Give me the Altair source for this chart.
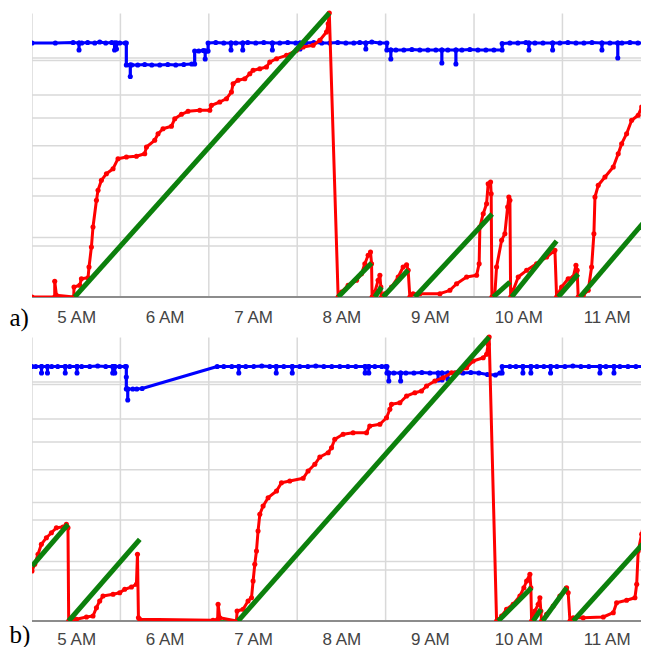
import altair as alt
import pandas as pd

# ---------------- shared axis / grid values ----------------
HOURS = [5, 6, 7, 8, 9, 10, 11]
VGRID = [4.5, 5.5, 6.5, 7.5, 8.5, 9.5, 10.5]
VGRID_TOP = 283.5
HGRID = [51, 59.5, 101, 118.5, 151.3, 179, 202, 236.5, 239]
BASE = [0]
X_DOMAIN = [4.5, 11.4]
Y_TOP = 290

# ---------------- panel a ----------------
blue_a_t = [4.500, 4.764, 4.965, 5.032, 5.032, 5.032, 5.062, 5.130, 5.210, 5.266, 5.334, 5.402,
            5.434, 5.434, 5.434, 5.456, 5.456, 5.456, 5.492, 5.555, 5.567, 5.567,
            5.612, 5.612, 5.612, 5.628, 5.696, 5.775, 5.855, 5.945, 6.036, 6.126, 6.217, 6.307,
            6.340, 6.340, 6.386, 6.438, 6.459, 6.459, 6.459, 6.482, 6.492, 6.492,
            6.579, 6.669, 6.751, 6.751, 6.751, 6.805, 6.884, 6.884, 6.884, 6.941, 7.031, 7.122,
            7.219, 7.219, 7.219, 7.303, 7.393, 7.484, 7.532, 7.532, 7.532, 7.597, 7.688, 7.778,
            7.869, 7.959, 8.050, 8.140, 8.208, 8.276, 8.276, 8.276, 8.344, 8.435, 8.514, 8.514,
            8.559, 8.559, 8.559, 8.616, 8.706, 8.797, 8.887, 8.978, 9.068, 9.136, 9.136, 9.136,
            9.204, 9.295, 9.295, 9.295, 9.363, 9.453, 9.544, 9.634, 9.725, 9.818, 9.818,
            9.906, 9.996, 10.087, 10.121, 10.121, 10.121, 10.189, 10.280, 10.389, 10.389, 10.389,
            10.471, 10.562, 10.653, 10.743, 10.834, 10.947, 10.947, 10.947, 11.037,
            11.126, 11.126, 11.126, 11.173, 11.264, 11.354, 11.444, 11.490]
blue_a_v = [254, 254, 254.5, 254, 247, 254, 254, 254.5, 254, 255, 254, 254.5,
            254, 247, 254, 254, 248, 254, 254, 254, 254, 232,
            232, 220.5, 232, 232, 232, 232.5, 232, 232, 232.5, 232, 232.5, 233,
            233, 246, 246, 246.5, 246, 238, 246, 246, 246, 254,
            254.5, 254, 254, 247, 254, 254, 254, 247, 254, 254.5, 254, 254.5,
            254, 247, 254, 254, 254.5, 254, 254, 248, 254, 254, 254.5, 254,
            254, 254.5, 254, 254, 254.5, 254, 248, 254, 255, 254, 254, 247,
            247, 238, 247, 247, 247, 247.5, 247, 247, 247, 247, 234, 247,
            247, 247, 233, 247, 247, 247.5, 247, 247, 247, 247, 253.5,
            254, 254, 254.5, 254, 247, 254, 254, 254, 254, 247, 254,
            254, 254.5, 254, 254, 254.5, 254, 247, 254, 254,
            254, 239, 254, 254, 254.5, 254, 254, 254]

red_a_t = [4.500, 4.757, 4.757, 4.776, 4.972, 4.975, 5.040, 5.059, 5.134, 5.145, 5.172, 5.190, 5.229, 5.247,
           5.285, 5.342, 5.417, 5.473, 5.568, 5.681, 5.775, 5.795, 5.888, 5.926, 5.982, 6.077, 6.115, 6.191,
           6.265, 6.398, 6.511, 6.530, 6.624, 6.700, 6.756, 6.775, 6.831, 6.907, 6.964, 7.001, 7.077, 7.152,
           7.190, 7.266, 7.379, 7.492, 7.567, 7.680, 7.756, 7.831, 7.850, 7.863,
           7.963, 8.001, 8.076, 8.171, 8.227, 8.265, 8.302, 8.329, 8.341, 8.347, 8.378, 8.415, 8.435, 8.446,
           8.454, 8.491, 8.567, 8.642, 8.698, 8.737, 8.755, 8.774, 8.811, 8.887, 9.114, 9.227, 9.303, 9.416,
           9.529, 9.558, 9.566, 9.604, 9.642, 9.660, 9.687, 9.694, 9.702, 9.736, 9.755, 9.812, 9.849, 9.880,
           9.894, 9.906, 9.914, 9.943, 10.000, 10.095, 10.208, 10.321, 10.415, 10.434, 10.491, 10.565, 10.622,
           10.653, 10.667, 10.678, 10.735, 10.792, 10.830, 10.856, 10.868, 10.905, 10.981, 11.075, 11.131,
           11.170, 11.226, 11.283, 11.357, 11.396, 11.453, 11.490]
red_a_v = [0, 0, 15.7, 1.7, 0, 10, 11.7, 18.3, 19.3, 30, 50, 70, 96.7, 106.7,
           116.7, 123.3, 128.3, 138.3, 140, 140.7, 143.3, 150, 156.7, 163.3, 168.3, 170.7, 178.3, 182.7,
           185.7, 186.7, 186.7, 191.7, 195, 198.3, 205, 213.3, 216.7, 218.3, 223.3, 226.7, 228.3, 230,
           235, 238.3, 241.7, 246.7, 250, 251.7, 256.7, 265, 273.3, 284,
           0, 5, 11.7, 16.7, 23.3, 33.3, 41.7, 45, 33.3, 0, 5, 16.7, 21.7, 10,
           0, 3.3, 10, 20, 30, 32.3, 26.7, 0, 3.3, 3.3, 3.3, 6.7, 13.3, 20,
           21.7, 33.3, 70, 83.3, 93.3, 113.3, 115, 103.3, 0, 3.3, 30, 56.7, 63.3, 90,
           100, 96.7, 0, 6.7, 20, 26.7, 33.3, 40, 46.7, 0, 10, 18.3, 20,
           31.7, 26.7, 0, 1.7, 6.7, 30, 63.3, 100, 111.7, 120, 130, 143.3,
           153.3, 163.3, 176.7, 181.7, 190, 196.7, 200]

green_a_t0 = [4.983, 7.963, 8.378, 8.472, 8.831, 9.717, 9.925, 10.452, 10.698]
green_a_v0 = [0, 0, 0, 0, 0, 0, 0, 0, 0]
green_a_t1 = [7.863, 8.341, 8.454, 8.755, 9.705, 9.906, 10.434, 10.678, 11.490]
green_a_v1 = [284, 34, 10, 27, 83, 15, 56, 23, 82]
flat_a_t0 = [4.500]
flat_a_t1 = [4.983]

# ---------------- panel b ----------------
blue_b_t = [4.500, 4.542, 4.608, 4.608, 4.608, 4.675, 4.675, 4.675, 4.723, 4.791,
            4.876, 4.876, 4.876, 4.927, 5.009, 5.009, 5.009, 5.062, 5.153, 5.243, 5.334,
            5.413, 5.413, 5.413, 5.436, 5.436, 5.436, 5.492, 5.555, 5.567, 5.567, 5.567,
            5.583, 5.583, 5.583, 5.640, 5.685, 5.746,
            6.595, 6.669, 6.760, 6.839, 6.839, 6.839, 6.918, 7.009, 7.099, 7.190,
            7.263, 7.263, 7.263, 7.348, 7.444, 7.444, 7.444,
            7.529, 7.620, 7.710, 7.801, 7.891, 7.982, 8.073, 8.163,
            8.268, 8.268, 8.268, 8.310, 8.310, 8.310, 8.378, 8.457, 8.502, 8.515, 8.515,
            8.536, 8.536, 8.536, 8.593, 8.670, 8.670, 8.670, 8.729, 8.820, 8.910, 9.001,
            9.094, 9.094, 9.094, 9.138, 9.138, 9.138, 9.204, 9.204, 9.204,
            9.283, 9.374, 9.464, 9.555, 9.652, 9.742, 9.793, 9.818, 9.818,
            9.906, 9.974, 10.053, 10.053, 10.053, 10.143, 10.143, 10.143, 10.211, 10.290,
            10.366, 10.366, 10.366, 10.437, 10.528, 10.618, 10.709, 10.799,
            10.924, 10.924, 10.924, 10.992, 11.083, 11.083, 11.083,
            11.150, 11.241, 11.331, 11.422, 11.490]
blue_b_v = [254.5, 254.5, 254.5, 248, 254.5, 254.5, 248, 254.5, 254.5, 254.5,
            254.5, 248, 254.5, 254.5, 254.5, 248, 254.5, 254.5, 254.5, 255, 254.5,
            254.5, 248, 254.5, 254.5, 248, 254.5, 254.5, 254.5, 254.5, 244, 232,
            232, 221, 232, 232, 232, 232.5,
            254.5, 254.5, 254.5, 254.5, 248, 254.5, 254.5, 254.5, 255, 254.5,
            254.5, 248, 254.5, 254.5, 254.5, 248, 254.5,
            254.5, 254.5, 255, 254.5, 254.5, 254.5, 254.5, 254.5,
            254.5, 248, 254.5, 254.5, 248, 254.5, 254.5, 254.5, 254.5, 254.5, 248,
            248, 240, 248, 248, 248, 240, 248, 248, 248, 248.5, 248,
            248, 241, 248, 248, 241, 248, 248, 242, 248,
            248, 248, 248.5, 248, 246.5, 246, 248, 248, 254.5,
            254.5, 254.5, 254.5, 248, 254.5, 254.5, 248, 254.5, 254.5, 254.5,
            254.5, 248, 254.5, 254.5, 254.5, 255, 254.5, 254.5,
            254.5, 248, 254.5, 254.5, 254.5, 248, 254.5,
            254.5, 254.5, 254.5, 254.5, 254.5]

red_b_t = [4.500, 4.531, 4.568, 4.606, 4.663, 4.720, 4.776, 4.851, 4.889, 4.907, 4.915, 5.002, 5.116, 5.190,
           5.229, 5.266, 5.303, 5.417, 5.492, 5.549, 5.625, 5.681, 5.693, 5.704, 5.719, 6.548, 6.600, 6.605,
           6.624, 6.813, 6.820, 6.888, 6.944, 6.983, 7.001, 7.020, 7.039, 7.057, 7.077, 7.114, 7.171, 7.266,
           7.322, 7.416, 7.567, 7.623, 7.699, 7.756, 7.850, 7.888, 7.925, 8.019, 8.132, 8.284, 8.321, 8.435,
           8.510, 8.548, 8.567, 8.661, 8.737, 8.831, 8.906, 8.963, 9.057, 9.151, 9.246, 9.340, 9.416, 9.490,
           9.604, 9.642, 9.660, 9.671,
           9.755, 9.812, 9.868, 9.943, 10.019, 10.064, 10.095, 10.132, 10.143, 10.151, 10.189, 10.226, 10.245,
           10.256, 10.264, 10.321, 10.396, 10.471, 10.528, 10.547, 10.565, 10.585, 10.622, 10.735, 10.962,
           11.075, 11.113, 11.226, 11.320, 11.340, 11.357, 11.396, 11.422, 11.453, 11.471, 11.482]
red_b_v = [50, 56.7, 66.7, 76.7, 83.3, 88.3, 93.3, 94, 96.7, 93.3, 0, 1.7, 4, 5,
           13.3, 20, 25, 26.7, 28.3, 31.7, 34, 36.7, 66.7, 3.3, 1.7, 0.7, 1.5, 16.7,
           3.3, 0, 10, 11.7, 20, 23.3, 40, 56.7, 70, 90, 106.7, 115, 123.3, 130,
           138.3, 140, 142.7, 150, 156.7, 164, 168.3, 173.3, 181.7, 186.7, 188.3, 188.3, 195, 196.7,
           203.3, 211.7, 216.7, 218.3, 225, 228.3, 230, 235, 240, 243.3, 248.3, 250, 253.3, 260,
           263.3, 266.7, 276.7, 284,
           0, 5, 11.7, 16.7, 25, 33.3, 40, 46.7, 33.3, 0, 10, 16.7, 23.3,
           10, 0, 6.7, 15, 25, 30, 33.3, 28.3, 0, 3.3, 3.3, 4,
           8.3, 18.3, 20.7, 23.3, 36.7, 70, 86.7, 100, 115, 115, 0]

green_b_t0 = [4.500, 4.915, 6.831, 9.773, 10.169, 10.276, 10.622]
green_b_v0 = [55, 0, 0, 0, 0, 0, 0]
green_b_t1 = [4.907, 5.719, 9.671, 10.151, 10.256, 10.547, 11.490]
green_b_v1 = [96.7, 81.7, 284, 33.3, 11.7, 33.3, 85]
flat_b_t0 = [5.719]
flat_b_t1 = [6.831]

BLUE = "#0000ff"
RED = "#ff0000"
GREEN = "#0c800c"
GRID = "#d9d9d9"


def series_df(t, v):
    df = pd.DataFrame({"t": t, "v": v})
    df["i"] = range(len(df))
    return df


def panel(label, title_y, label_pad, bt, bv, rt, rv, gt0, gv0, gt1, gv1, ft0, ft1):
    xs = alt.Scale(domain=X_DOMAIN, nice=False, zero=False)
    ys = alt.Scale(domain=[0, Y_TOP], nice=False)
    xaxis = alt.Axis(values=HOURS, labelExpr="datum.value + ' AM'", grid=False, ticks=False, tickSize=0,
                     domain=False, labelFont="Liberation Sans", labelFontSize=17, labelColor="#444444",
                     labelPadding=label_pad, labelFlush=False, labelOverlap=False,
                     title=label, titleFont="Liberation Serif", titleFontSize=25, titleFontWeight="normal",
                     titleColor="#000000", titleX=-23, titleY=title_y, titleAlign="left",
                     titleBaseline="alphabetic")
    X = alt.X("t:Q", scale=xs, axis=xaxis)
    Y = alt.Y("v:Q", scale=ys, axis=None)
    O = alt.Order("i:Q")

    vdf = pd.DataFrame({"t": VGRID, "v": [0] * len(VGRID), "v1": [VGRID_TOP] * len(VGRID)})
    vgrid = alt.Chart(vdf).mark_rule(color=GRID, strokeWidth=1.5, clip=True).encode(x=X, y=Y, y2="v1:Q")
    hgrid = alt.Chart(pd.DataFrame({"v": HGRID})).mark_rule(color=GRID, strokeWidth=1.5).encode(y=Y)
    base = alt.Chart(pd.DataFrame({"v": BASE})).mark_rule(color="#8c8c8c", strokeWidth=2).encode(y=Y)

    flat = alt.Chart(pd.DataFrame({"t": ft0, "t1": ft1, "v": [0] * len(ft0)})).mark_rule(
        color=GREEN, strokeWidth=1.5, clip=True).encode(x=X, x2="t1:Q", y=Y)

    bdf = series_df(bt, bv)
    bline = alt.Chart(bdf).mark_line(color=BLUE, strokeWidth=3.2, strokeJoin="round", clip=True).encode(
        x=X, y=Y, order=O)
    bpts = alt.Chart(bdf).mark_circle(color=BLUE, size=26, opacity=1, clip=True).encode(x=X, y=Y)

    rdf = series_df(rt, rv)
    rline = alt.Chart(rdf).mark_line(color=RED, strokeWidth=3, strokeJoin="round", clip=True).encode(
        x=X, y=Y, order=O)
    rpts = alt.Chart(rdf).mark_circle(color=RED, size=26, opacity=1, clip=True).encode(x=X, y=Y)

    gdf = pd.DataFrame({"t": gt0, "v": gv0, "t1": gt1, "v1": gv1})
    gseg = alt.Chart(gdf).mark_rule(color=GREEN, strokeWidth=5, clip=True).encode(
        x=X, x2="t1:Q", y=Y, y2="v1:Q")

    return alt.layer(vgrid, hgrid, base, flat, bline, bpts, rline, rpts, gseg).properties(
        width=610, height=Y_TOP)


pa = panel("a)", 28, 12, blue_a_t, blue_a_v, red_a_t, red_a_v,
           green_a_t0, green_a_v0, green_a_t1, green_a_v1, flat_a_t0, flat_a_t1)
pb = panel("b)", 21, 10, blue_b_t, blue_b_v, red_b_t, red_b_v,
           green_b_t0, green_b_v0, green_b_t1, green_b_v1, flat_b_t0, flat_b_t1)

chart = alt.vconcat(pa, pb, spacing=1).resolve_scale(x="independent", y="independent").properties(
    padding={"left": 1, "top": -1, "right": -2, "bottom": 0},
    background="white",
).configure_view(stroke="transparent", strokeWidth=0)

chart.save("out.html", embed_options={"renderer": "svg", "actions": False})
